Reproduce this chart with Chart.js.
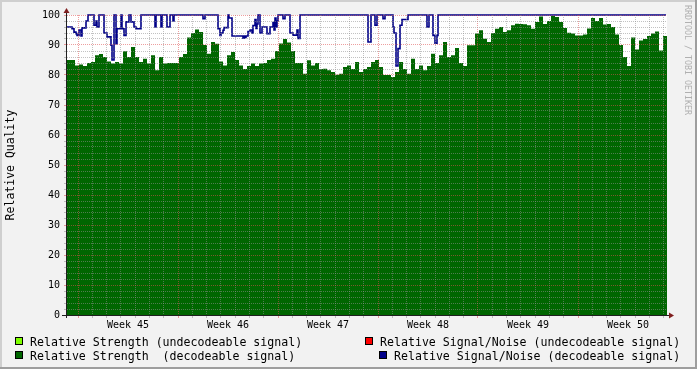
<!DOCTYPE html>
<html>
<head>
<meta charset="utf-8">
<script src="https://cdn.jsdelivr.net/npm/chart.js@4/dist/chart.umd.min.js"></script>
<style>
  html, body { margin: 0; padding: 0; background: #f2f2f2; }
  canvas { display: block; }
</style>
</head>
<body>
<canvas id="myChart" width="697" height="369"></canvas>
<script>
// --------------------
// Data
// --------------------
// x unit: days since the first sample, whole graph spans 6 weeks
const rangeDays = 42;
const firstWeekStart = 0.77;           // Monday 00:00 of week 45
const weekLabels = ["Week 45", "Week 46", "Week 47", "Week 48", "Week 49", "Week 50"];
const yTickLabels = [0, 10, 20, 30, 40, 50, 60, 70, 80, 90, 100];
const yMinorStep = 2;

// Relative Strength (decodeable), one sample every 0.28 day
const strengthStep = 0.28;
const strengthValues = [
  85, 85, 83.2, 83.5, 83, 84, 84.3, 86.6, 87, 86, 84.5, 83.8, 84.3, 83.8, 87.9, 86, 89.3, 86, 84.3, 85.4, 83.8, 86.6, 81.6, 86, 83.8,
  84, 84, 84, 86, 87, 92.5, 94, 95.2, 94.3, 90, 87.1, 91, 90.4, 84.5, 83.2, 86.6, 87.7, 85, 83.2, 82, 83, 83.8, 83, 83.8, 84, 85,
  85.4, 88, 90.5, 92, 90.8, 88, 84, 84, 80.4, 84.9, 83.2, 84, 82, 82.1, 81.6, 81, 80.1, 80.4, 82.7, 83.2, 82, 84.3, 81, 82, 82.7,
  84.3, 85, 82.7, 80, 80, 79.3, 81, 84.3, 82, 80.4, 85.4, 82, 83.2, 81.6, 83, 87.1, 84, 86.6, 91, 86, 86.6, 89, 84, 83, 89.9, 89.9,
  93.8, 94.9, 92.1, 91, 94, 95.4, 96, 94.3, 94.9, 96.6, 97.1, 97, 96.9, 96.6, 95.4, 97.7, 99.5, 97, 98, 99.7, 99.3, 97.7, 95.7, 94.1, 93.8,
  93.2, 93.2, 93.5, 95.5, 99, 98, 99, 96.8, 97, 96, 93.5, 90, 86, 83, 92.5, 88.5, 91.5, 92, 93, 93.8, 94.5, 88.2, 93, 92
];

// Relative Signal/Noise (decodeable): value changes (day, value)
const snrDays = [
  0, 0.35, 0.49, 0.63, 0.70, 0.84, 0.98, 1.05, 1.33, 1.47, 1.89, 2.03, 2.10, 2.24, 2.59, 2.80, 3.08, 3.15, 3.29, 3.43,
  3.50, 3.78, 3.85, 3.99, 4.13, 4.34, 4.48, 4.69, 4.83, 5.18, 6.16, 6.23, 6.58, 6.65, 7.00, 7.21, 7.42, 7.49, 9.52, 9.66,
  10.57, 10.71, 10.78, 10.92, 10.99, 11.27, 11.34, 11.55, 12.32, 12.39, 12.46, 12.53, 12.67, 12.81, 12.95, 13.02, 13.16, 13.23, 13.30, 13.37,
  13.51, 13.65, 14.00, 14.21, 14.42, 14.49, 14.56, 14.63, 14.70, 14.77, 15.12, 15.26, 15.61, 15.82, 16.10, 16.17, 16.31, 21.07, 21.28, 21.56,
  21.70, 22.12, 22.26, 22.82, 22.89, 23.03, 23.17, 23.31, 23.45, 23.87, 25.20, 25.34, 25.62, 25.76, 25.90, 25.97, 41.93
];
const snrValues = [
  96, 95.4, 94.3, 93.8, 93.2, 95, 93, 95.7, 98, 100, 96.6, 98, 96, 100, 94, 92.7, 89.9, 85, 100, 90.4,
  95.4, 100, 95.4, 93.2, 97.7, 100, 97.7, 96, 95.4, 100, 96, 100, 96, 100, 96, 100, 98, 100, 98.8, 100,
  95.4, 93.2, 94, 94.9, 95.8, 100, 99, 93, 92.3, 93, 92.5, 93, 94.5, 95, 94, 96.5, 98.5, 95.5, 97, 100,
  94, 96, 93.8, 96, 97.5, 95, 99, 96, 98, 100, 98.8, 100, 94, 93.3, 95, 92.2, 100, 91, 100, 96.6,
  100, 98.8, 100, 96, 94, 83, 88.8, 96.6, 98.5, 100, 96, 100, 93.2, 90.6, 93.2, 100, 100
];

// undecodeable series: nothing visible
const weakStrengthValues = [];
const weakSnrValues = [];

// Colors
const colors = {
  weakStrength: "#7fff00",
  strength: "#006600",
  weakSnr: "#ff0000",
  snr: "#000088",
  back: "#f2f2f2",
  canvas: "#ffffff",
  shadeA: "#cfcfcf",
  shadeB: "#9e9e9e",
  grid: "rgba(143,143,143,0.55)",
  mgrid: "rgba(222,79,79,0.55)",
  arrow: "#801f1f",
  axis: "#1f1f1f"
};

const mono = "'DejaVu Sans Mono', 'Liberation Mono', monospace";

// --------------------
// Plugins
// --------------------
const frame = {
  id: "frame",
  beforeDraw(chart) {
    const { ctx, width, height, chartArea: a } = chart;
    ctx.save();
    ctx.fillStyle = colors.back;
    ctx.fillRect(0, 0, width, height);
    ctx.fillStyle = colors.shadeA;
    ctx.fillRect(0, 0, width, 2);
    ctx.fillRect(0, 0, 2, height);
    ctx.fillStyle = colors.shadeB;
    ctx.fillRect(0, height - 2, width, 2);
    ctx.fillRect(width - 2, 0, 2, height);
    ctx.fillStyle = colors.canvas;
    ctx.fillRect(a.left, a.top, a.right - a.left, a.bottom - a.top);
    ctx.restore();
  },
  afterDraw(chart) {
    const { ctx, chartArea: a } = chart;
    ctx.save();
    // axes
    ctx.strokeStyle = colors.axis;
    ctx.lineWidth = 1;
    ctx.beginPath();
    ctx.moveTo(a.left - 0.5, a.bottom + 3);
    ctx.lineTo(a.left - 0.5, a.top - 3);
    ctx.moveTo(a.left - 5, a.bottom + 0.5);
    ctx.lineTo(a.right + 3, a.bottom + 0.5);
    ctx.stroke();
    // arrows
    ctx.fillStyle = colors.arrow;
    ctx.beginPath();
    ctx.moveTo(a.left - 0.5, a.top - 7);
    ctx.lineTo(a.left - 3.5, a.top - 2);
    ctx.lineTo(a.left + 2.5, a.top - 2);
    ctx.closePath();
    ctx.fill();
    ctx.beginPath();
    ctx.moveTo(a.right + 7, a.bottom + 0.5);
    ctx.lineTo(a.right + 2, a.bottom - 2.5);
    ctx.lineTo(a.right + 2, a.bottom + 3.5);
    ctx.closePath();
    ctx.fill();

    // legend
    const spots = [
      { ds: 0, x: 15, y: 337 },
      { ds: 2, x: 365, y: 337 },
      { ds: 1, x: 15, y: 351 },
      { ds: 3, x: 379, y: 351 }
    ];
    ctx.font = "11.6px " + mono;
    ctx.textBaseline = "alphabetic";
    ctx.textAlign = "left";
    spots.forEach(s => {
      const ds = chart.data.datasets[s.ds];
      ctx.fillStyle = ds.legendColor;
      ctx.fillRect(s.x, s.y, 8, 8);
      ctx.strokeStyle = "#000";
      ctx.strokeRect(s.x + 0.5, s.y + 0.5, 7, 7);
      ctx.fillStyle = "#000";
      ctx.fillText(ds.label, s.x + 15, s.y + 8.5);
    });

    // watermark
    ctx.translate(chart.width - 10, 5);
    ctx.rotate(Math.PI / 2);
    ctx.font = "8.3px " + mono;
    ctx.fillStyle = "#b0b0b0";
    ctx.textBaseline = "middle";
    ctx.fillText("RRDTOOL / TOBI OETIKER", 0, 0);
    ctx.restore();
  }
};

// --------------------
// Build Graph
// --------------------
const strengthData = strengthValues.map((v, i) => ({ x: i * strengthStep, y: v }));
const snrData = snrDays.map((d, i) => ({ x: d, y: snrValues[i] }));

const isMajorDay = (v) => Math.abs(((v - firstWeekStart) / 7) - Math.round((v - firstWeekStart) / 7)) < 1e-6;

const ctx = document.getElementById("myChart").getContext("2d");

new Chart(ctx, {
  type: "line",
  data: {
    datasets: [
      {
        label: "Relative Strength (undecodeable signal)",
        data: weakStrengthValues,
        legendColor: colors.weakStrength,
        backgroundColor: colors.weakStrength,
        borderWidth: 0,
        pointRadius: 0,
        order: 3
      },
      {
        label: "Relative Strength  (decodeable signal)",
        data: strengthData,
        legendColor: colors.strength,
        backgroundColor: colors.strength,
        borderColor: colors.strength,
        borderWidth: 0,
        pointRadius: 0,
        fill: "origin",
        stepped: true,
        order: 2
      },
      {
        label: "Relative Signal/Noise (undecodeable signal)",
        data: weakSnrValues,
        legendColor: colors.weakSnr,
        borderColor: colors.weakSnr,
        borderWidth: 1,
        pointRadius: 0,
        order: 1
      },
      {
        label: "Relative Signal/Noise (decodeable signal)",
        data: snrData,
        legendColor: colors.snr,
        borderColor: colors.snr,
        borderWidth: 1.6,
        pointRadius: 0,
        fill: false,
        stepped: true,
        clip: 3,
        order: 0
      }
    ]
  },
  options: {
    responsive: false,
    animation: false,
    events: [],
    layout: { padding: { left: 0, top: 15, right: 30, bottom: 0 } },
    plugins: { legend: { display: false }, tooltip: { enabled: false } },
    scales: {
      x: {
        type: "linear",
        position: "bottom",
        min: 0,
        max: rangeDays,
        afterBuildTicks: (s) => {
          const t = [];
          for (let d = firstWeekStart; d < rangeDays; d += 1) t.push({ value: d });
          s.ticks = t;
        },
        afterFit: (s) => { s.height = 0; },
        ticks: { display: false },
        grid: {
          z: 1,
          lineWidth: 1,
          tickLength: 3,
          color: (c) => isMajorDay(c.tick.value) ? colors.mgrid : colors.grid,
          tickColor: (c) => isMajorDay(c.tick.value) ? colors.mgrid : colors.grid
        },
        border: { display: false, dash: [1, 1] }
      },
      xw: {
        type: "linear",
        position: "bottom",
        min: 0,
        max: rangeDays,
        afterBuildTicks: (s) => {
          s.ticks = weekLabels.map((_, i) => ({ value: firstWeekStart + 7 * i + 3.5 }));
        },
        afterFit: (s) => { s.height = 54; },
        ticks: {
          autoSkip: false,
          maxRotation: 0,
          padding: 4,
          color: "#000",
          font: { family: mono, size: 10 },
          callback: (v, i) => weekLabels[i]
        },
        grid: { display: false, drawTicks: false },
        border: { display: false }
      },
      y: {
        type: "linear",
        position: "left",
        min: 0,
        max: 100,
        afterBuildTicks: (s) => {
          const t = [];
          for (let v = 0; v <= 100; v += yMinorStep) t.push({ value: v });
          s.ticks = t;
        },
        afterFit: (s) => { s.width = 67; },
        ticks: {
          autoSkip: false,
          padding: 4,
          color: "#000",
          font: { family: mono, size: 10 },
          callback: (v) => yTickLabels.includes(v) ? String(v) : ""
        },
        grid: {
          z: 1,
          lineWidth: 1,
          tickLength: 3,
          color: (c) => yTickLabels.includes(c.tick.value) ? colors.mgrid : colors.grid,
          tickColor: (c) => yTickLabels.includes(c.tick.value) ? colors.mgrid : colors.grid
        },
        border: { display: false, dash: [1, 1] },
        title: {
          display: true,
          text: "Relative Quality",
          color: "#000",
          font: { family: mono, size: 11.5 },
          padding: { top: 4, bottom: 0 }
        }
      }
    }
  },
  plugins: [frame]
});
</script>
</body>
</html>
